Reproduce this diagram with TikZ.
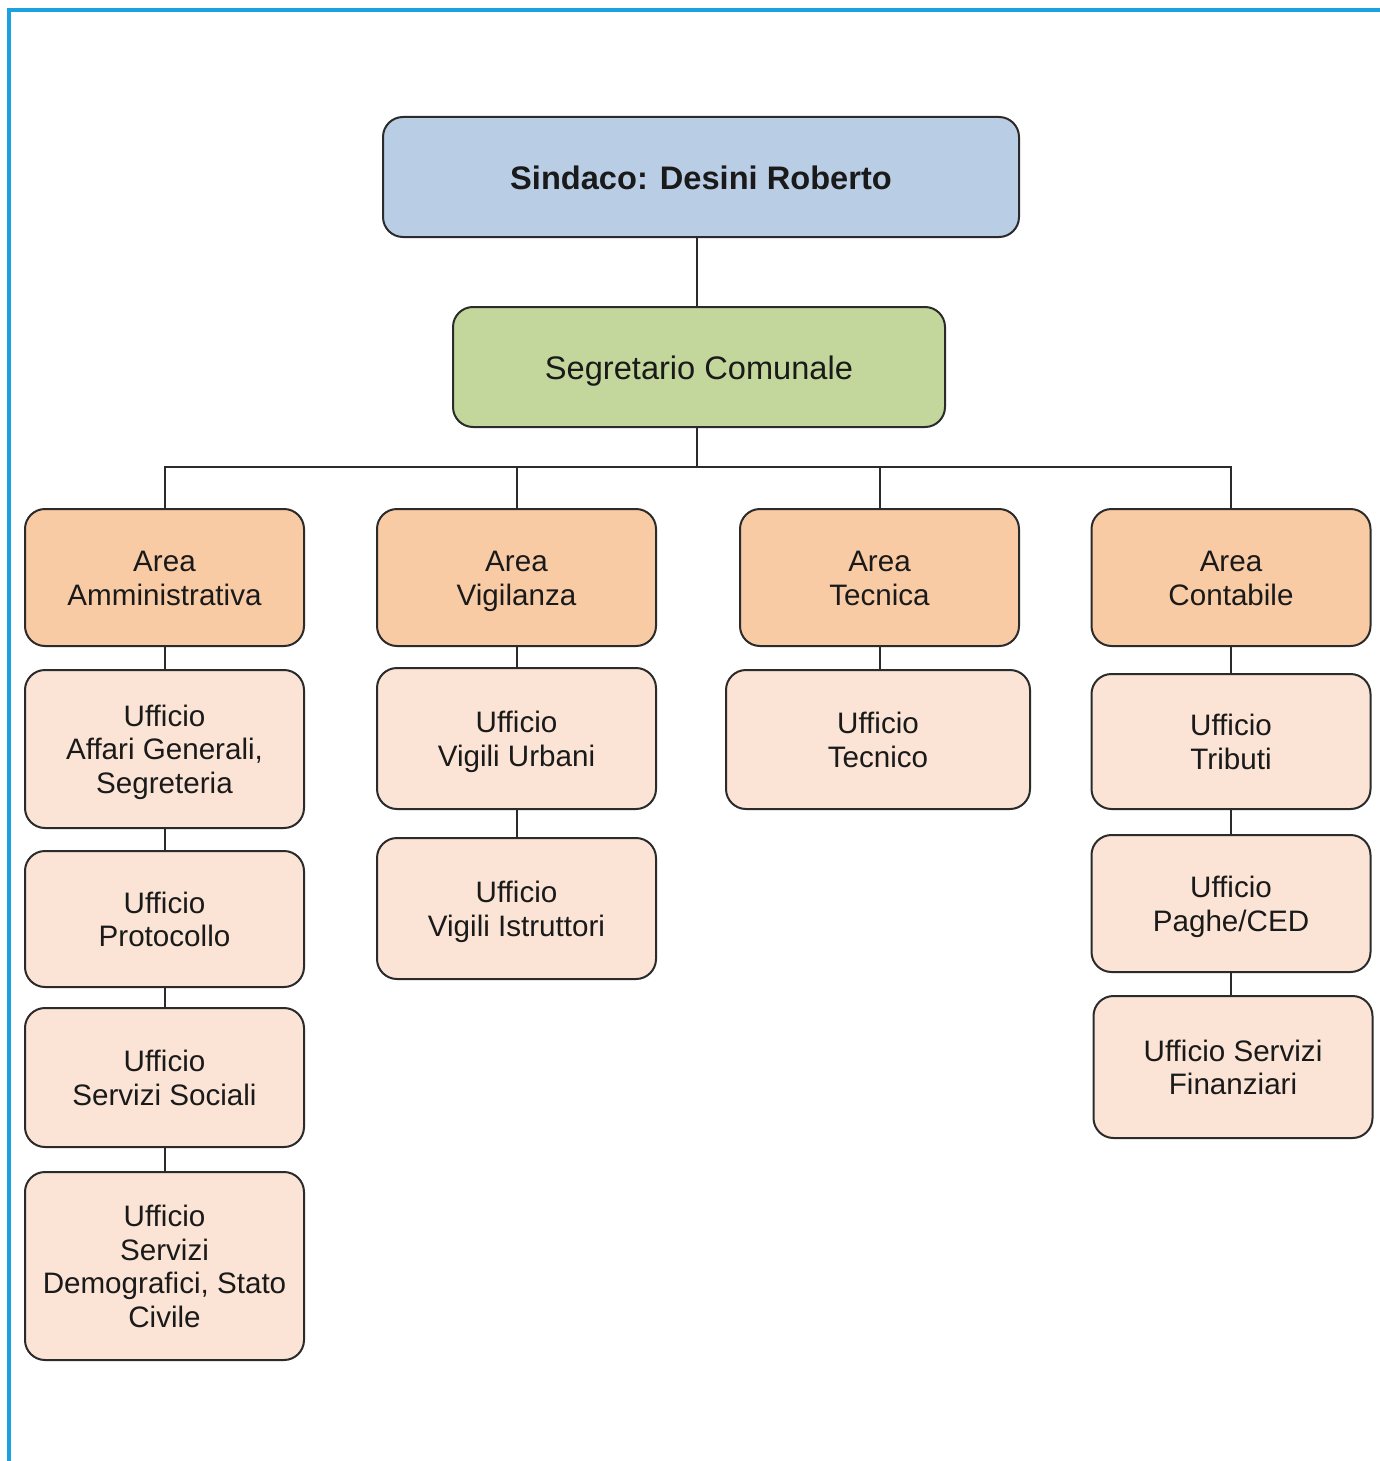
\documentclass[tikz,border=0pt]{standalone}
\usepackage{fontspec}
\setmainfont{Liberation Sans}
\definecolor{frameblue}{HTML}{1BA1E2}
\definecolor{topblue}{HTML}{B9CDE5}
\definecolor{segreen}{HTML}{C3D69B}
\definecolor{areapeach}{HTML}{F9CBA5}
\definecolor{uffpeach}{HTML}{FBE4D5}
\definecolor{edgegray}{HTML}{2B2B2B}
\definecolor{txt}{HTML}{1A1A1A}
\newcommand\ts{\rule{0pt}{0.96em}}
\newcommand\bigtopstrut{\rule{0pt}{0.98em}}
\newcommand\botstrut{\rule[-0.22em]{0pt}{0.22em}}
\begin{document}
\begin{tikzpicture}[x=0.5pt,y=-0.5pt,
  box/.style={draw=edgegray, line width=1pt, rounded corners=10pt, align=center,
    text=txt, inner sep=0pt, font=\fontsize{14.8}{16.8}\selectfont,
    execute at end node=\botstrut},
  topbox/.style={box, fill=topblue, minimum width=318pt, minimum height=60pt,
    font=\fontsize{16.3}{19}\selectfont\bfseries, execute at begin node=\bigtopstrut},
  segbox/.style={box, fill=segreen, minimum width=246pt, minimum height=60pt,
    font=\fontsize{16.3}{19}\selectfont, execute at begin node=\bigtopstrut},
  areabox/.style={box, fill=areapeach, minimum width=139.5pt, minimum height=68.5pt},
  uffbox/.style={box, fill=uffpeach, minimum width=139.5pt},
  conn/.style={draw=edgegray, line width=1pt}
]
\useasboundingbox (0,0) rectangle (1380,1461);
\fill[white] (0,0) rectangle (1380,1461);
\draw[frameblue, line width=1.6pt] (9,1461) -- (9,10) -- (1380,10);

\node[topbox] (S) at (701,177) {Sindaco: Desini Roberto};
\node[segbox] (G) at (699,367) {Segretario Comunale};

\node[areabox] (A1) at (164.5,577.5) {\ts Area\\Amministrativa};
\node[areabox] (A2) at (516.5,577.5) {\ts Area\\Vigilanza};
\node[areabox] (A3) at (879.5,577.5) {\ts Area\\Tecnica};
\node[areabox] (A4) at (1231,577.5) {\ts Area\\Contabile};

\node[uffbox, minimum height=79pt] (U1a) at (164.5,749) {\ts Ufficio\\Affari Generali,\\Segreteria};
\node[uffbox, minimum height=68pt] (U1b) at (164.5,919) {\ts Ufficio\\Protocollo};
\node[uffbox, minimum height=69.5pt] (U1c) at (164.5,1077.5) {\ts Ufficio\\Servizi Sociali};
\node[uffbox, minimum height=94pt] (U1d) at (164.5,1266) {\ts Ufficio\\Servizi\\Demografici, Stato\\Civile};

\node[uffbox, minimum height=70.5pt] (U2a) at (516.5,738.5) {\ts Ufficio\\Vigili Urbani};
\node[uffbox, minimum height=70.5pt] (U2b) at (516.5,908.5) {\ts Ufficio\\Vigili Istruttori};

\node[uffbox, minimum width=152pt, minimum height=69.5pt] (U3a) at (878,739.5) {\ts Ufficio\\Tecnico};

\node[uffbox, minimum height=67.5pt] (U4a) at (1231,741.5) {\ts Ufficio\\Tributi};
\node[uffbox, minimum height=68.5pt] (U4b) at (1231,903.5) {\ts Ufficio\\Paghe/CED};
\node[uffbox, minimum height=71pt] (U4c) at (1233,1067) {\ts Ufficio Servizi\\Finanziari};

\coordinate (bus) at (697,467);

\draw[conn] (S.south -| bus) -- (G.north -| bus);
\draw[conn] (G.south -| bus) -- (bus);
\draw[conn] (A1.north) -- (A1.north |- bus) -- (A4.north |- bus) -- (A4.north);
\draw[conn] (A2.north) -- (A2.north |- bus);
\draw[conn] (A3.north) -- (A3.north |- bus);

\draw[conn] (A1.south) -- (U1a.north);
\draw[conn] (U1a.south) -- (U1b.north);
\draw[conn] (U1b.south) -- (U1c.north);
\draw[conn] (U1c.south) -- (U1d.north);

\draw[conn] (A2.south) -- (U2a.north);
\draw[conn] (U2a.south) -- (U2b.north);

\draw[conn] (A3.south) -- (A3.south |- U3a.north);

\draw[conn] (A4.south) -- (U4a.north);
\draw[conn] (U4a.south) -- (U4b.north);
\draw[conn] (U4b.south) -- (U4b.south |- U4c.north);
\end{tikzpicture}
\end{document}
